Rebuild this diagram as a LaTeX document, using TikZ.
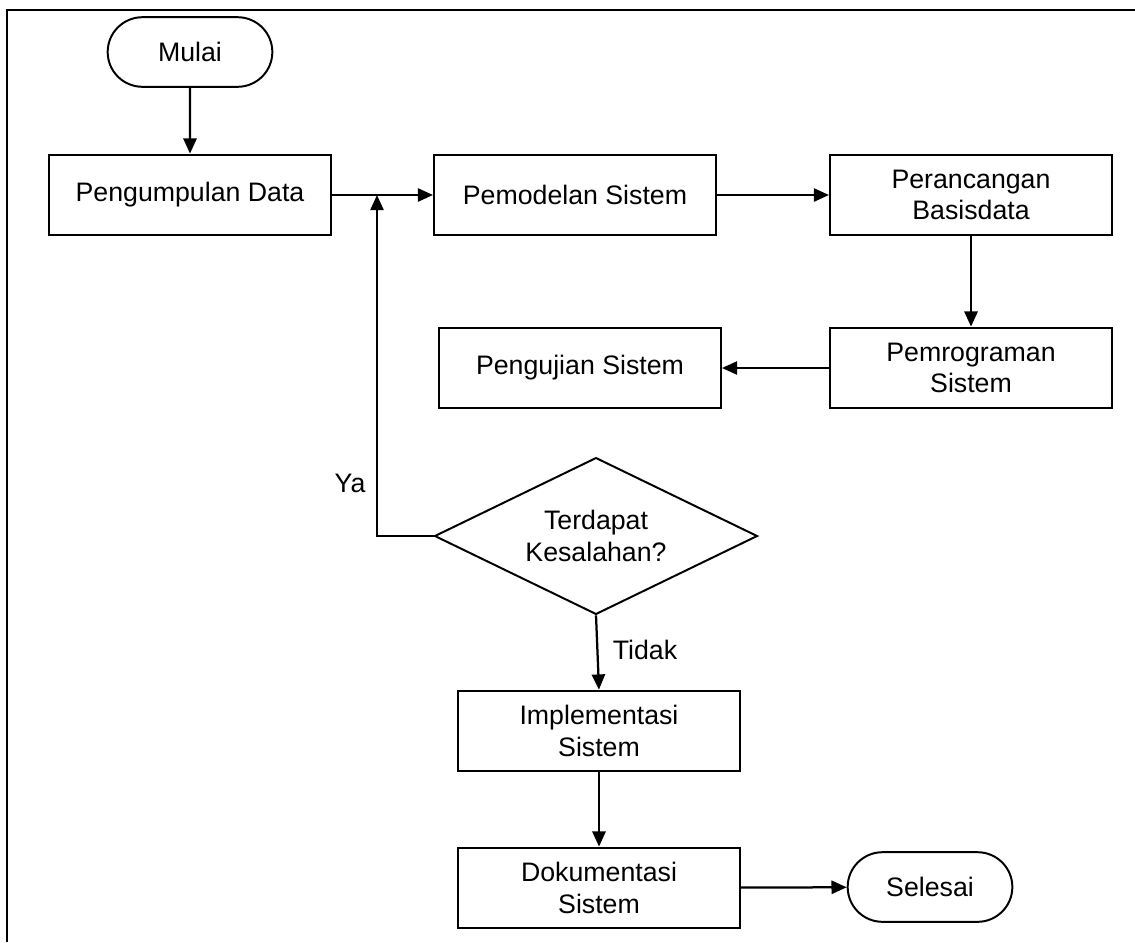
\documentclass[tikz,border=0pt]{standalone}
\usepackage{fontspec}
\setmainfont{Liberation Sans}
\usetikzlibrary{shapes.geometric, shapes.misc, arrows.meta, positioning}

\begin{document}
\begin{tikzpicture}[
        x=0.025cm, y=-0.025cm,
        box/.style={rectangle, draw, line width=1.4pt, minimum width=7.05cm, minimum height=2.02cm, align=center, font=\fontsize{19}{22.5}\selectfont},
        term/.style={rounded rectangle, draw, line width=1.4pt, minimum width=4.35cm, minimum height=1.74cm, font=\fontsize{19}{22.5}\selectfont},
        cek/.style={diamond, draw, line width=1.4pt, aspect=2, minimum width=8.07cm, minimum height=3.92cm, inner sep=0pt, align=center, font=\fontsize{19}{22.5}\selectfont},
        arrow/.style={-{Triangle[length=0.38cm, width=0.33cm]}, line width=1.6pt},
        lbl/.style={font=\fontsize{19}{22.5}\selectfont}
    ]
        \useasboundingbox (0,0) rectangle (1135,942);

        % Frame
        \draw[line width=1.4pt] (7,942) -- (7,10) -- (1135,10);

        % Start
        \node[term] (mulai) at (190,52) {Mulai};

        % Top row
        \node[box] (kumpul) at (190,195) {Pengumpulan Data};
        \node[box] (model) at (575,195) {Pemodelan Sistem};
        \node[box] (rancang) at (971,195) {Perancangan\\Basisdata};

        % Second row
        \node[box] (program) at (971,368) {Pemrograman\\Sistem};
        \node[box] (uji) at (580,368) {Pengujian Sistem};

        % Decision
        \node[cek] (salah) at (596,536) {Terdapat\\Kesalahan?};

        % Final steps
        \node[box] (impl) at (599,731) {Implementasi\\Sistem};
        \node[box] (dok) at (599,888) {Dokumentasi\\Sistem};
        \node[term] (selesai) at (930,887) {Selesai};

        \coordinate (gabung) at (377,195);

        % Arrows
        \draw[arrow] (mulai) -- (kumpul);
        \draw[arrow] (kumpul) -- (model);
        \draw[arrow] (model) -- (rancang);
        \draw[arrow] (rancang) -- (program);
        \draw[arrow] (program) -- (uji);
        \draw[arrow] (salah.west) -| (gabung);
        \node[lbl] (ya) at (350,483) {Ya};
        \draw[arrow] (salah.south) -- (impl.north);
        \node[lbl] (tidak) at (645,650) {Tidak};
        \draw[arrow] (impl) -- (dok);
        \draw[arrow] (dok) -- (selesai);
    \end{tikzpicture}
\end{document}
